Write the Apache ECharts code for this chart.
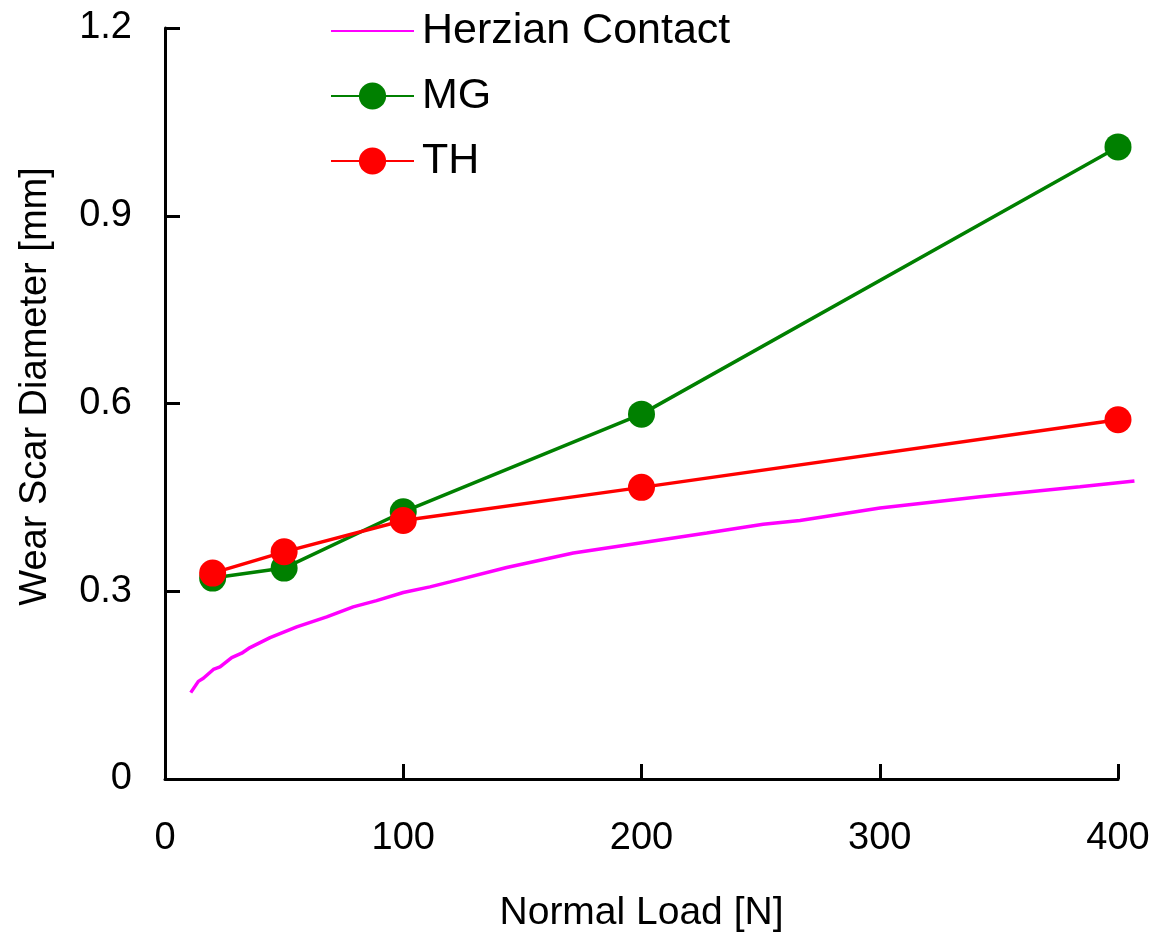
<!DOCTYPE html>
<html>
<head>
<meta charset="utf-8">
<title>Wear scar diameter vs normal load</title>
<script src="https://cdn.jsdelivr.net/npm/echarts@6/dist/echarts.min.js"></script>
<style>
  html, body { margin: 0; padding: 0; background: #fff; }
  #chart { width: 1159px; height: 938px; }
</style>
</head>
<body>
<div id="chart"></div>
<script>
// measured points (load in N, diameter in mm)
const loads = [20, 50, 100, 200, 400]
const mgDiam = [0.321, 0.337, 0.427, 0.583, 1.010]
const thDiam = [0.329, 0.363, 0.413, 0.466, 0.574]

// Hertzian contact curve
const hertzLoad = [10.8, 14.0, 16.1, 20.3, 23.1, 28.0, 32.2, 35.7, 44.1, 55.3, 67.9, 79.0, 88.8, 100.0,
  111.2, 119.6, 143.4, 171.4, 199.4, 227.4, 251.1, 266.5, 300.1, 342.1, 384.0, 406.9]
const hertzDiam = [0.138, 0.156, 0.161, 0.175, 0.179, 0.194, 0.201, 0.210, 0.226, 0.243, 0.259, 0.275, 0.285, 0.298,
  0.307, 0.315, 0.338, 0.361, 0.377, 0.393, 0.407, 0.413, 0.433, 0.451, 0.467, 0.476]

const seriesNames = ['Herzian Contact', 'MG', 'TH']

const zip = (xs, ys) => xs.map((x, i) => [x, ys[i]])

const tickFont = { fontFamily: 'Liberation Sans', fontSize: 38, color: '#000' }
const titleFont = { fontFamily: 'Liberation Sans', fontSize: 38, color: '#000' }

// 主坐标区 0–400 N；理论曲线略超出 400，放在同比例、略宽的隐藏坐标区里
const plotLeft = 165
const plotRight = 41
const xMax = 400
const pxPerUnit = (1159 - plotLeft - plotRight) / xMax
const hertzXMax = 408

const chart = echarts.init(document.getElementById('chart'), null, { renderer: 'canvas' })

chart.setOption({
  backgroundColor: '#fff',
  animation: false,
  grid: [
    { left: plotLeft, right: plotRight, top: 28, bottom: 159, containLabel: false },
    { left: plotLeft, width: hertzXMax * pxPerUnit, top: 28, bottom: 159, containLabel: false }
  ],
  legend: {
    orient: 'vertical',
    left: 330,
    top: 6,
    padding: 0,
    itemWidth: 83,
    itemHeight: 34,
    itemGap: 15,
    data: [
      // 理论曲线在图例里只画线，不画点
      { name: seriesNames[0], itemStyle: { opacity: 0 } },
      seriesNames[1],
      seriesNames[2]
    ],
    textStyle: { fontFamily: 'Liberation Sans', fontSize: 43, color: '#000', lineHeight: 50, padding: [0, 0, 0, 3] }
  },
  xAxis: [
    {
      type: 'value',
      gridIndex: 0,
      min: 0,
      max: xMax,
      interval: 100,
      name: 'Normal Load [N]',
      nameLocation: 'middle',
      nameGap: 115,
      nameTextStyle: Object.assign({}, titleFont, { fontSize: 39 }),
      axisLine: { lineStyle: { color: '#000', width: 3 } },
      axisTick: { inside: true, length: 15, lineStyle: { color: '#000', width: 3 } },
      axisLabel: Object.assign({ margin: 41 }, tickFont),
      splitLine: { show: false }
    },
    { type: 'value', gridIndex: 1, min: 0, max: hertzXMax, show: false }
  ],
  yAxis: [
    {
      type: 'value',
      gridIndex: 0,
      min: 0,
      max: 1.2,
      interval: 0.3,
      name: 'Wear Scar Diameter [mm]',
      nameLocation: 'middle',
      nameGap: 110,
      nameTextStyle: Object.assign({}, titleFont, { padding: [0, 0, 0, 34] }),
      axisLine: { show: true, lineStyle: { color: '#000', width: 3 } },
      axisTick: { show: true, inside: true, length: 15, lineStyle: { color: '#000', width: 3 } },
      axisLabel: Object.assign({ margin: 33, padding: [5, 0, 0, 0], formatter: v => (v === 0 ? '0' : v.toFixed(1)) }, tickFont),
      splitLine: { show: false }
    },
    { type: 'value', gridIndex: 1, min: 0, max: 1.2, show: false }
  ],
  series: [
    {
      name: seriesNames[0],
      type: 'line',
      xAxisIndex: 1,
      yAxisIndex: 1,
      data: zip(hertzLoad, hertzDiam),
      symbol: 'none',
      z: 3,
      lineStyle: { color: '#ff00ff', width: 3.5 },
      itemStyle: { color: '#ff00ff' }
    },
    {
      name: seriesNames[1],
      type: 'line',
      data: zip(loads, mgDiam),
      symbol: 'circle',
      symbolSize: 27,
      clip: false,
      lineStyle: { color: '#008000', width: 3.5 },
      itemStyle: { color: '#008000' }
    },
    {
      name: seriesNames[2],
      type: 'line',
      data: zip(loads, thDiam),
      symbol: 'circle',
      symbolSize: 27,
      clip: false,
      lineStyle: { color: '#ff0000', width: 3.5 },
      itemStyle: { color: '#ff0000' }
    }
  ]
})
</script>
</body>
</html>
